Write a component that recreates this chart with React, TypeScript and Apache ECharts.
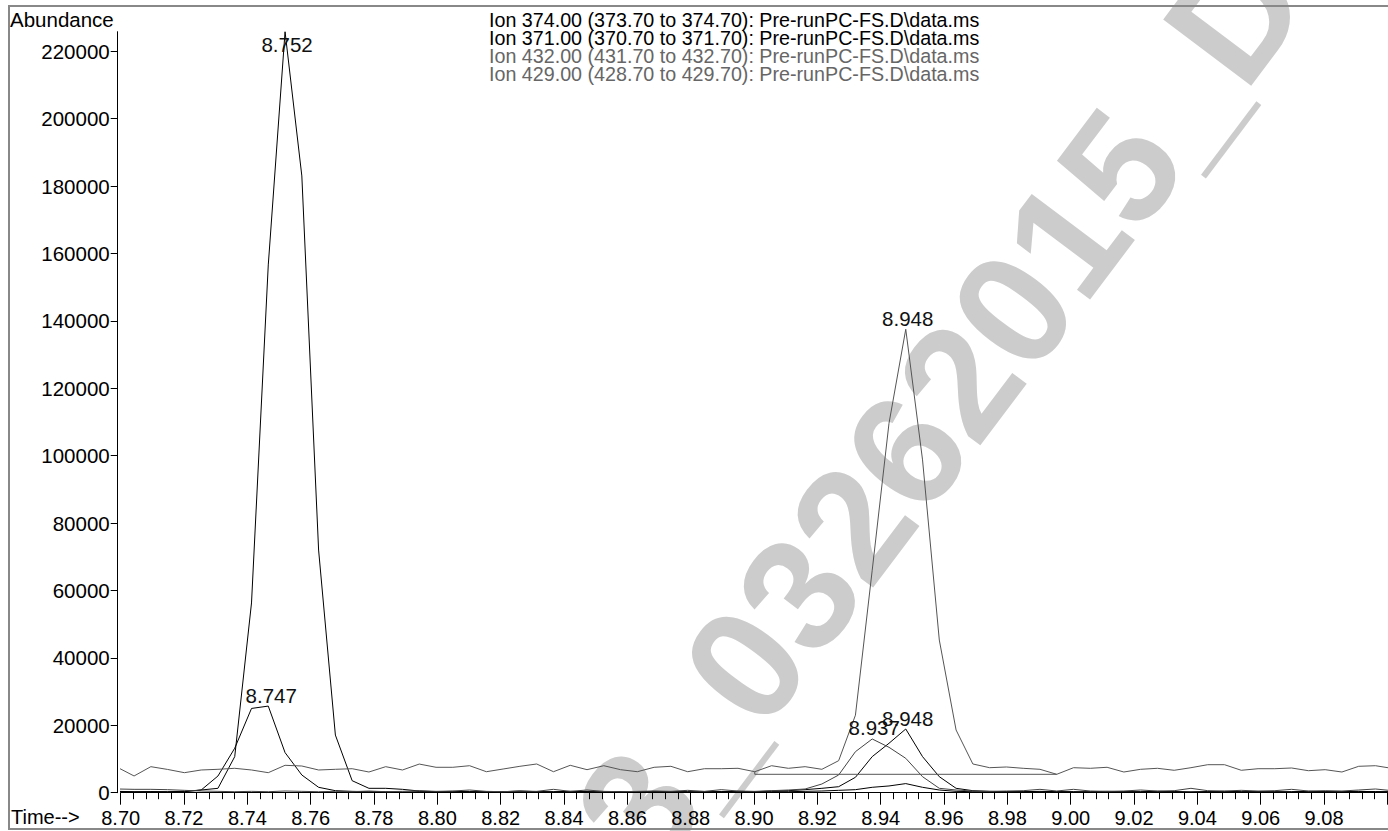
import React, { useEffect, useRef } from "react";
import * as echarts from "echarts";

// SIM scan cycle (uniform sampling of the detector)
const SCAN_START = 8.698925; // min
const SCAN_STEP = 0.0052975; // min per cycle

// Abundance per scan
const ion374 = [
  400, 300, 300, 200, 300, 800, 1300, 10700, 56300, 156600,
  225800, 183000, 72000, 17100, 3560, 1300, 1300, 1000, 500, 300,
  400, 300, 200, 300, 500, 300, 300, 400, 300, 200,
  300, 300, 400, 300, 300, 200, 300, 400, 300, 500,
  600, 900, 1300, 1780, 4570, 10700, 14660, 18900, 10700, 4750,
  1300, 600, 400, 300, 300, 400, 300, 200, 300, 400,
  300, 300, 400, 300, 200, 300, 400, 300, 300, 200,
  300, 400, 300, 300, 400, 300, 300,
];
const ion371 = [
  300, 200, 300, 300, 400, 800, 4950, 13200, 25000, 25700,
  11900, 5250, 1600, 600, 400, 300, 300, 200, 300, 300,
  200, 300, 300, 200, 300, 300, 200, 300, 300, 200,
  300, 200, 300, 300, 200, 300, 300, 200, 300, 300,
  300, 400, 500, 700, 900, 1600, 2000, 2700, 1600, 800,
  400, 300, 200, 300, 300, 200, 300, 300, 200, 300,
  300, 200, 300, 300, 200, 300, 300, 200, 300, 300,
  200, 300, 300, 200, 300, 300, 200,
];
const ion432 = [
  7540, 4960, 7720, 6900, 5940, 6740, 6940, 7240, 6740, 5940,
  8130, 7920, 6740, 6940, 7120, 6140, 7720, 6740, 8500, 7540,
  7540, 8010, 6230, 7030, 7830, 8520, 6230, 8130, 6830, 8010,
  6830, 6230, 7540, 7830, 6230, 7120, 7120, 7240, 6230, 8010,
  7240, 7720, 6940, 9500, 23000, 66000, 109600, 137500, 98750, 45300,
  18600, 8520, 7420, 7630, 7240, 6940, 5460, 7420, 7240, 7540,
  6140, 6940, 7240, 6650, 7420, 8310, 8310, 6650, 7120, 7120,
  7330, 6530, 6830, 6140, 7830, 8010, 7200,
];
const ion429 = [
  1100, 1000, 1000, 900, 700, 500, 400, 300, 400, 300,
  500, 400, 300, 400, 300, 500, 300, 400, 600, 400,
  500, 800, 400, 300, 500, 400, 1000, 400, 800, 400,
  300, 400, 500, 400, 700, 400, 900, 500, 400, 600,
  800, 1100, 2580, 5250, 12170, 15940, 13470, 10200, 4750, 1300,
  800, 500, 400, 500, 600, 1000, 500, 1000, 500, 400,
  500, 800, 500, 600, 1300, 600, 500, 700, 500, 600,
  1000, 500, 600, 500, 800, 1100, 600,
];

const scanTimes = ion374.map((_, i) => +(SCAN_START + i * SCAN_STEP).toFixed(6));

const seriesNames = [
  "Ion 374.00 (373.70 to 374.70): Pre-runPC-FS.D\\data.ms",
  "Ion 371.00 (370.70 to 371.70): Pre-runPC-FS.D\\data.ms",
  "Ion 432.00 (431.70 to 432.70): Pre-runPC-FS.D\\data.ms",
  "Ion 429.00 (428.70 to 429.70): Pre-runPC-FS.D\\data.ms",
];
const seriesValues = [ion374, ion371, ion432, ion429];
const seriesColors = ["#000000", "#000000", "#555555", "#444444"];
const legendColors = ["#000000", "#000000", "#666666", "#666666"];

// peak annotations: series index, scan index, retention time text
const peakSeries = [0, 0, 1, 2, 3];
const peakScans = [10, 47, 9, 47, 45];
const peakTexts = ["8.752", "8.948", "8.747", "8.948", "8.937"];
const peakPlaces = ["bottom", "top", "top", "top", "top"];

// integration baseline under the Ion 432 peak
const baselineScans = [38, 56];
const baselineLevel = 5460;

const yMajorTicks = [0, 20000, 40000, 60000, 80000, 100000, 120000, 140000, 160000, 180000, 200000, 220000];
const yMinorStep = 4000;
const yMax = 225800;
const xMin = 8.7;
const xMax = 9.1;
const xStep = 0.02;
const watermark = "3_03262015_DI";

const FONT = "'Liberation Sans', Arial, Helvetica, sans-serif";

export default function App() {
  const ref = useRef<HTMLDivElement>(null);
  useEffect(() => {
    const chart = echarts.init(ref.current!, null, { renderer: "svg" });
    const yMinorTicks: number[] = [];
    for (let v = 0; v <= yMax; v += yMinorStep) yMinorTicks.push(v);

    const lineSeries = seriesValues.map((vals, s) => ({
      type: "line",
      name: seriesNames[s],
      xAxisIndex: 0,
      yAxisIndex: 0,
      data: vals.map((v, i) => [scanTimes[i], v]),
      showSymbol: false,
      symbol: "none",
      lineStyle: { color: seriesColors[s], width: 1 },
      itemStyle: { color: seriesColors[s] },
      clip: true,
      z: 3,
    }));

    const baselineSeries = {
      type: "line",
      name: "baseline",
      data: [
        [scanTimes[baselineScans[0]], ion432[baselineScans[0]]],
        [scanTimes[baselineScans[0]], baselineLevel],
        [scanTimes[baselineScans[1]], baselineLevel],
      ],
      showSymbol: false,
      symbol: "none",
      lineStyle: { color: "#555555", width: 1 },
      z: 3,
    };

    const labelSeries = {
      type: "scatter",
      name: "peaks",
      symbolSize: 0,
      itemStyle: { color: "#000000" },
      z: 4,
      data: peakTexts.map((t, p) => ({
        value: [scanTimes[peakScans[p]], seriesValues[peakSeries[p]][peakScans[p]]],
        label: {
          show: true,
          formatter: t,
          position: peakPlaces[p],
          distance: peakPlaces[p] === "bottom" ? 3 : 1,
          offset: [p === 2 ? 3 : 2, 0],
          fontSize: 20.5,
          lineHeight: 20,
          fontFamily: FONT,
          color: "#111111",
          opacity: 1,
        },
      })),
    };

    const graphics: any[] = [
      {
        type: "text",
        z: -1,
        x: 954,
        y: 388,
        rotation: (53 * Math.PI) / 180,
        style: {
          text: watermark,
          fontSize: 160,
          fontWeight: "bold",
          fontFamily: FONT,
          fill: "#cccccc",
          align: "center",
          verticalAlign: "middle",
        },
      },
      {
        type: "rect",
        z: 10,
        shape: { x: 9, y: 6, width: 1400, height: 823 },
        style: { fill: "none", stroke: "#888888", lineWidth: 2 },
      },
      {
        type: "text",
        x: 10,
        y: 19,
        style: { text: "Abundance", fontSize: 20.5, fontFamily: FONT, fill: "#000", verticalAlign: "middle" },
      },
      {
        type: "text",
        x: 11,
        y: 817,
        style: { text: "Time-->", fontSize: 20, fontFamily: FONT, fill: "#000", verticalAlign: "middle" },
      },
      ...seriesNames.map((n, s) => ({
        type: "text",
        x: 489,
        y: 20 + s * 18.1,
        style: { text: n, fontSize: 19.7, fontFamily: FONT, fill: legendColors[s], verticalAlign: "middle" },
      })),
    ];

    chart.setOption({
      animation: false,
      backgroundColor: "#ffffff",
      grid: { left: 120.7, right: 0.6, top: 31.7, bottom: 38.3, containLabel: false },
      xAxis: {
        type: "value",
        min: xMin,
        max: xMax,
        interval: xStep,
        axisLine: { show: true, onZero: false, lineStyle: { color: "#000", width: 1 } },
        axisTick: { show: true, length: 12, lineStyle: { color: "#000", width: 1 } },
        minorTick: { show: true, splitNumber: 5, length: 6.5, lineStyle: { color: "#000", width: 1 } },
        axisLabel: {
          show: true,
          formatter: (v: number) => v.toFixed(2),
          showMaxLabel: false,
          fontSize: 20,
          fontFamily: FONT,
          color: "#000",
          margin: 15,
        },
        splitLine: { show: false },
        minorSplitLine: { show: false },
      },
      yAxis: [
        {
          type: "value",
          min: 0,
          max: yMax,
          interval: 20000,
          offset: 3,
          axisLine: { show: true, lineStyle: { color: "#000", width: 1 } },
          axisTick: { show: true, length: 7, customValues: yMajorTicks, lineStyle: { color: "#000", width: 1 } },
          axisLabel: {
            show: true,
            customValues: yMajorTicks,
            formatter: (v: number) => String(v),
            fontSize: 20.5,
            fontFamily: FONT,
            color: "#000",
            margin: 8,
          },
          splitLine: { show: false },
        },
        {
          type: "value",
          min: 0,
          max: yMax,
          offset: 3,
          axisLine: { show: false },
          axisTick: { show: true, length: 3, customValues: yMinorTicks, lineStyle: { color: "#000", width: 1 } },
          axisLabel: { show: false },
          splitLine: { show: false },
        },
      ],
      graphic: graphics,
      series: [...lineSeries, baselineSeries, labelSeries],
    });
    return () => chart.dispose();
  }, []);
  return (
    <div
      ref={ref}
      style={{ position: "fixed", left: 0, top: 0, width: 1388, height: 831, background: "#fff" }}
    />
  );
}
